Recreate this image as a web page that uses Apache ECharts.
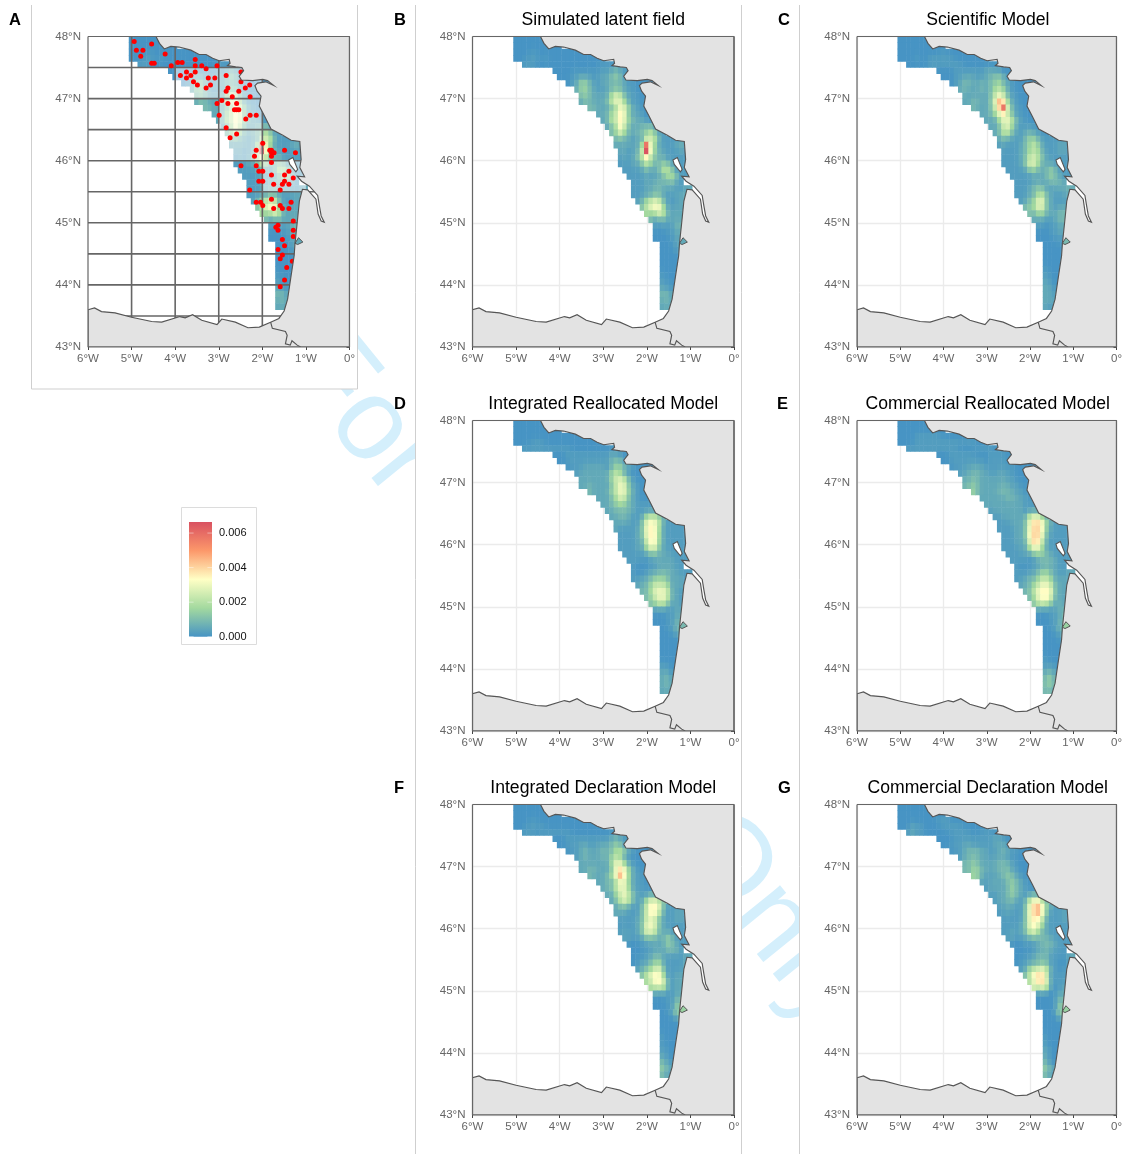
<!DOCTYPE html>
<html><head><meta charset="utf-8">
<style>html,body{margin:0;padding:0;background:#fff}#c{width:1125px;height:1154px}</style>
<script src="https://cdn.jsdelivr.net/npm/echarts@6/dist/echarts.min.js"></script>
</head><body><div id="c"></div>
<script>
// ---- data ----
const legendTicks = [0,0.002,0.004,0.006];
const legendMax = 0.00664;
const icesLats = [47.5,47,46.5,46,45.5,45,44.5,44,43.5];
const icesLons = [-5,-4,-3,-2];
const washedSquares = [[-4,47,-2,47.5],[-3,46.5,-2,47],[-3,46,-2,46.5],[-2,45.5,-1,46]];
const samplingStations = [[-4.94,47.92],[-4.89,47.78],[-4.74,47.78],[-4.79,47.68],[-4.54,47.88],[-4.23,47.72],[-4.54,47.57],[-4.48,47.57],[-3.94,47.58],[-3.84,47.58],[-3.54,47.63],[-4.09,47.53],[-3.54,47.53],[-3.39,47.53],[-3.04,47.53],[-2.49,47.43],[-3.29,47.48],[-3.74,47.43],[-3.54,47.43],[-3.64,47.37],[-3.88,47.37],[-3.74,47.33],[-3.58,47.27],[-3.49,47.22],[-3.24,47.33],[-3.09,47.33],[-3.19,47.22],[-3.29,47.17],[-2.83,47.37],[-2.49,47.27],[-2.29,47.22],[-2.39,47.17],[-2.54,47.12],[-2.79,47.17],[-2.83,47.12],[-2.69,47.03],[-2.28,47.03],[-2.93,46.97],[-3.04,46.92],[-2.79,46.92],[-2.59,46.92],[-2.64,46.82],[-2.59,46.82],[-2.54,46.82],[-2.99,46.73],[-2.38,46.67],[-2.28,46.73],[-2.14,46.73],[-2.83,46.53],[-2.59,46.43],[-2.74,46.37],[-1.99,46.28],[-2.14,46.17],[-1.83,46.17],[-1.79,46.17],[-1.73,46.13],[-1.79,46.13],[-1.79,46.07],[-1.49,46.17],[-1.24,46.13],[-2.18,46.07],[-1.79,45.97],[-2.49,45.92],[-2.14,45.92],[-2.08,45.83],[-1.99,45.83],[-1.79,45.77],[-1.49,45.77],[-1.39,45.83],[-1.29,45.72],[-2.08,45.67],[-1.99,45.67],[-1.74,45.62],[-1.54,45.62],[-1.49,45.67],[-1.39,45.62],[-2.29,45.53],[-1.59,45.53],[-2.14,45.33],[-2.04,45.33],[-1.79,45.38],[-1.59,45.28],[-1.74,45.23],[-1.54,45.23],[-1.39,45.23],[-1.34,45.33],[-1.99,45.28],[-1.29,45.03],[-1.64,44.96],[-1.69,44.93],[-1.64,44.88],[-1.29,44.88],[-1.29,44.78],[-1.54,44.73],[-1.49,44.63],[-1.64,44.57],[-1.54,44.48],[-1.59,44.42],[-1.31,44.38],[-1.44,44.28],[-1.49,44.08],[-1.59,43.97]];
const frenchCoast = [[-4.44,48],[-4.36,47.89],[-4.25,47.80],[-4.10,47.84],[-3.91,47.83],[-3.64,47.78],[-3.45,47.71],[-3.29,47.71],[-3.14,47.65],[-2.99,47.61],[-2.76,47.63],[-2.74,47.57],[-2.80,47.53],[-2.61,47.51],[-2.47,47.50],[-2.43,47.45],[-2.53,47.36],[-2.48,47.30],[-2.22,47.29],[-1.99,47.31],[-1.88,47.29],[-1.74,47.21],[-1.92,47.27],[-2.11,47.25],[-2.17,47.21],[-2.12,47.12],[-2.03,47.04],[-2.07,46.88],[-1.95,46.72],[-1.80,46.51],[-1.53,46.41],[-1.34,46.33],[-1.14,46.31],[-1.11,46.02],[-1.14,45.89],[-1.03,45.74],[-1.20,45.75],[-1.10,45.67],[-0.92,45.59],[-0.73,45.44],[-0.69,45.27],[-0.65,45.11],[-0.58,45.01],[-0.65,45.03],[-0.72,45.14],[-0.77,45.38],[-0.96,45.53],[-1.08,45.54],[-1.15,45.35],[-1.20,45.0],[-1.25,44.67],[-1.27,44.47],[-1.34,44.15],[-1.42,43.77],[-1.50,43.58],[-1.62,43.46],[-1.81,43.40]];
const spanishCoast = [[-2.07,43.32],[-2.33,43.31],[-2.62,43.40],[-2.93,43.45],[-3.04,43.36],[-3.39,43.43],[-3.60,43.52],[-3.77,43.47],[-3.89,43.49],[-4.31,43.40],[-4.54,43.41],[-5.0,43.48],[-5.38,43.55],[-5.69,43.57],[-5.85,43.63],[-6,43.60]];
const landCorners = [[-6,43],[0,43],[0,48]];
const borderLine = [[-1.81,43.40],[-1.77,43.30],[-1.47,43.25],[-1.43,43.19],[-1.47,43.05],[-1.36,43.03],[-1.32,43.10],[-1.20,43.03],[-1.12,43.0]];
const oleronIsland = [[-1.40,46.01],[-1.30,46.05],[-1.19,45.86],[-1.23,45.82],[-1.37,45.94]];
const arcachonBay = [[-1.25,44.67],[-1.17,44.76],[-1.07,44.69],[-1.19,44.65]];
const rowTopLat = 48, cellStep = 0.1;
const rowWest = [-5.06,-5.06,-5.06,-5.06,-4.86,-4.16,-4.06,-3.86,-3.66,-3.56,-3.56,-3.36,-3.16,-3.06,-2.96,-2.86,-2.76,-2.76,-2.66,-2.66,-2.66,-2.56,-2.46,-2.36,-2.36,-2.36,-2.26,-2.16,-2.06,-1.96,-1.86,-1.86,-1.86,-1.70,-1.70,-1.70,-1.70,-1.70,-1.70,-1.70,-1.70,-1.70,-1.70,-1.70];
// density estimated for each step of the rows below (steps written as hex chars)
const levelValues = [0,0.00022,0.0005,0.0009,0.0015,0.0023,0.003,0.0035,0.004,0.0043,0.0047,0.0051,0.0058,0.0066];
// each char = density step, one char per 0.1 degree cell, rows from 48N southward
const latentRows = ["00000000","00000000000","0000100000000000","000111010000000000000","11100000000000000011000","000001001011123210","00011221112234310","01244311223332110000","2443211233321100","3432222465321100","2332223566421100","332223466421100","2234586322100","2255764322100","2348532233321","3464323345321","3332123465211111","2222223c542111231","221134d642211121","1212357533211111","1112235433432111","111123223553111","111121223453111","111222333321","11122332221122","1112233211222","134565311122","35677421221","444652222","32232222","1111133","0001122","0000122","00012","00011","00000","00000","00000","1000","1100","2110","3321","232","222"];
const scientificRows = ["00000000","00000000000","0000000000100000","000010011111100000000","00000111111110000000000","000011111112221000","00011222112334210","01233223234432100000","2322232345421000","2222223565311000","2233223698421000","3222358c5311000","2234675311000","2224665311000","2235642111100","2355321232110","2322113443111111","12111234542111221","1111234543111221","1111235553211111","1111236643221111","111123432343111","111112223432111","111122223332","11123432122232","1112345321122","123466321111","34466321222","334432233","22211233","1101122","0001122","0000111","00001","00000","00000","00000","10000","1100","2100","2210","2211","222","211"];
const integratedReallocRows = ["00000000","00000000000","0000000000000000","000011100000000000000","11111111111000000000000","000111111111122100","00111111111133310","01112222212443210000","1222222245421000","2222222456531000","2232222356632100","322224566421000","2223465321000","2234443211111","2233332111111","2233211245542","2222113676521111","21111236774211111","1111236774211111","1111225774211111","1111224663211111","111112333221111","111101222221111","100011222211","10012233322111","1122344432221","223455542221","33466652211","345665221","34553221","1111122","0001122","0001133","00123","00012","00000","00000","00000","0000","1100","2210","2321","232","222"];
const commercialReallocRows = ["00000000","00000000000","0000111111000000","000011111111111111000","11111111111100001111000","000111111000111100","00111111110111100","01112222111111100000","1223322112211000","2333222222211000","3343222223221100","432222333221100","2222223322110","2222222221111","1222222211121","1122222256642","1112223688742111","11112236887321111","1112237886311111","1112226885211111","1111224764211111","111122344321111","111101233321111","100112232211","11112344321122","1123345542222","223456653221","33567763221","346776222","35553231","1111223","0001123","0001133","00123","00012","00001","00000","00000","1000","1110","2320","3431","343","332"];
const integratedDeclRows = ["00000000","00000000000","0000100000000000","000111100000000000000","11101111111000000000000","000111111111123210","00111221122234310","01123222333454210000","1232223245421000","2222222466421000","2233222368742100","322234797421100","2233466421100","2335664211100","2245653211222","2356531246653","2332113577631111","22211135775211221","1111235653211221","1111236663211111","1211236653221111","121123332343111","000112222432111","000112223331","00112332111122","0112344211112","133456311112","35677411222","457762122","45552122","1111122","0001133","0001144","00134","00012","00000","00000","10000","1000","1100","2100","3210","432","321"];
const commercialDeclRows = ["00000000","00000000000","0000000001110000","000211000011111000000","12110000001111100111000","000011111111122100","00111221111122210","01123332211232110000","1233322122211000","3343222233311000","3344322233321000","442212234321000","2122223432100","1222234321100","1122343211221","1223321257752","1222113689742111","11211136897311121","1111136775211121","1111236764211111","1121235643211111","121122333321111","000111233321111","000012232111","00112333111022","0112233311001","124556521011","35788511111","468861111","55651012","0000122","0000133","0000144","00034","00012","00000","00000","10000","1000","2100","2100","3100","432","321"];
const arcachonLevels = [2,2,3,3,4,4,4];
const panelNames = ["","Simulated latent field","Scientific Model","Integrated Reallocated Model","Commercial Reallocated Model","Integrated Declaration Model","Commercial Declaration Model"];
const panelTags = ["A","B","C","D","E","F","G"];
const panelRows = [latentRows,latentRows,scientificRows,integratedReallocRows,commercialReallocRows,integratedDeclRows,commercialDeclRows];
// ---- layout ----
const panelLeft = [88,472.5,857,472.5,857,472.5,857];
const panelTop = [36.5,36.5,36.5,420.5,420.5,804.5,804.5];
const tagLeft = [9,394,778,394,777,394,778];
const PW = 261.5, PH = 310.5;
const FONT = '"Liberation Sans", Arial, sans-serif';
const spectral = ['#3288BD','#99D594','#FFFFBF','#FC8D59','#D53E4F'];
function hex(c){return [1,3,5].map(i=>parseInt(c.substr(i,2),16));}
function densityColor(v){
  const t=Math.min(1,Math.max(0,v/legendMax))*(spectral.length-1);
  const i=Math.min(spectral.length-2,Math.floor(t)),f=t-i;
  const a=hex(spectral[i]),b=hex(spectral[i+1]);
  const mix=a.map((x,k)=>x+(b[k]-x)*f).map(x=>Math.round(x*0.9+255*0.1));
  return 'rgb('+mix.join(',')+')';
}
// cell data: [west lon, top lat, read value, shade]; the shade softens the colour with the adjacent read cells, as the raster in the picture does
function cellsFrom(rows){
  const g=new Map(),col=w=>Math.round((w+5.06)*10);
  rows.forEach((r,i)=>{[...r].forEach((ch,j)=>g.set(i+','+(col(rowWest[i])+j),levelValues[parseInt(ch,16)]));});
  const out=[];
  rows.forEach((r,i)=>{[...r].forEach((ch,j)=>{
    const c=col(rowWest[i])+j,v=g.get(i+','+c);
    let sum=v*0.4,w=0.4;
    [[i-1,c],[i+1,c],[i,c-1],[i,c+1]].forEach(k=>{const n=g.get(k[0]+','+k[1]);if(n!==undefined){sum+=n*0.15;w+=0.15;}});
    out.push([rowWest[i]+j*cellStep,rowTopLat-i*cellStep,v,v>=0.0043?v:sum/w]);
  });});
  return out;
}
const renderCell=(p,api)=>{
  const a=api.coord([api.value(0),api.value(1)]),b=api.coord([api.value(0)+cellStep,api.value(1)-cellStep]);
  return {type:'rect',shape:{x:a[0]-0.2,y:a[1]-0.2,width:b[0]-a[0]+0.5,height:b[1]-a[1]+0.5},style:{fill:densityColor(api.value(3))}};
};
const polySeries=(i,pts,style,z,closed=true)=>({
  type:'custom',xAxisIndex:i,yAxisIndex:i,z,silent:true,animation:false,clip:true,data:[[pts[0][0],pts[0][1]]],
  renderItem:(p,api)=>({type:closed?'polygon':'polyline',shape:{points:pts.map(q=>api.coord(q))},style})
});
const grids=[],xAxes=[],yAxes=[],series=[],titles=[];
panelNames.forEach((name,i)=>{
  grids.push({left:panelLeft[i],top:panelTop[i],width:PW,height:PH});
  const isA=i===0;
  const ax={type:'value',min:-6,max:0,interval:1,gridIndex:i,
    axisLine:{show:false},axisTick:{length:3,lineStyle:{color:'#444'}},
    axisLabel:{margin:6,fontSize:11.5,color:'#666',fontFamily:FONT,showMinLabel:true,showMaxLabel:true,hideOverlap:false,formatter:v=>v<0?(-v)+'°W':'0°'},
    splitLine:{show:!isA,lineStyle:{color:'#ebebeb',width:1.3}}};
  const ay={type:'value',min:43,max:48,interval:1,gridIndex:i,
    axisLine:{show:false},axisTick:{length:3,lineStyle:{color:'#444'}},
    axisLabel:{margin:7,fontSize:11.5,color:'#666',fontFamily:FONT,formatter:v=>v+'°N'},
    splitLine:{show:!isA,lineStyle:{color:'#ebebeb',width:1.3}}};
  xAxes.push(ax);yAxes.push(ay);
  series.push({type:'custom',xAxisIndex:i,yAxisIndex:i,z:2,silent:true,animation:false,clip:true,progressive:0,data:cellsFrom(panelRows[i]),renderItem:renderCell});
  if(isA){
    series.push({type:'custom',xAxisIndex:i,yAxisIndex:i,z:3,silent:true,animation:false,clip:true,data:washedSquares,
      renderItem:(p,api)=>{const a=api.coord([api.value(0),api.value(3)]),b=api.coord([api.value(2),api.value(1)]);
        return {type:'rect',shape:{x:a[0],y:a[1],width:b[0]-a[0],height:b[1]-a[1]},style:{fill:'rgba(255,255,255,0.55)'}};}});
    icesLats.forEach(l=>series.push({type:'line',xAxisIndex:i,yAxisIndex:i,z:4,silent:true,animation:false,showSymbol:false,lineStyle:{color:'#666',width:1.6},data:[[-6,l],[0,l]]}));
    icesLons.forEach(l=>series.push({type:'line',xAxisIndex:i,yAxisIndex:i,z:4,silent:true,animation:false,showSymbol:false,lineStyle:{color:'#666',width:1.6},data:[[l,43],[l,48]]}));
    series.push({type:'scatter',xAxisIndex:i,yAxisIndex:i,z:5,silent:true,animation:false,symbolSize:5,itemStyle:{color:'#ff0000',opacity:1},data:samplingStations});
  }
  const land=frenchCoast.concat(spanishCoast,landCorners);
  series.push(polySeries(i,land,{fill:'#e3e3e3',stroke:'#555',lineWidth:1.15},6));
  series.push(polySeries(i,borderLine,{fill:'none',stroke:'#555',lineWidth:1.15},7,false));
  series.push(polySeries(i,oleronIsland,{fill:'#fff',stroke:'#555',lineWidth:1.1},7));
  series.push(polySeries(i,arcachonBay,{fill:densityColor(levelValues[arcachonLevels[i]]),stroke:'#555',lineWidth:1},7));
  series.push({type:'line',xAxisIndex:i,yAxisIndex:i,z:8,silent:true,animation:false,showSymbol:false,clip:false,lineStyle:{color:'#666',width:1.2},
    data:[[-6,48],[0,48],[0,43],[-6,43],[-6,48]]});
  titles.push({text:panelTags[i],left:tagLeft[i],top:panelTop[i]-25,textStyle:{fontFamily:FONT,fontSize:16.5,fontWeight:'bold',color:'#000'},padding:0});
  if(name) titles.push({text:name,left:panelLeft[i]+PW/2,textAlign:'center',top:panelTop[i]-25,textStyle:{fontFamily:FONT,fontSize:17.6,fontWeight:'normal',color:'#000'},padding:0});
});
// legend colour bar
const L=panelNames.length;
grids.push({left:189,top:522,width:23,height:114.7});
xAxes.push({type:'value',gridIndex:L,min:0,max:1,show:false});
yAxes.push({type:'value',gridIndex:L,min:0,max:legendMax,position:'right',interval:0.002,
  axisLine:{show:false},axisTick:{show:false},splitLine:{show:false},
  axisLabel:{margin:7,fontSize:11,color:'#111',fontFamily:FONT,customValues:legendTicks,formatter:v=>v.toFixed(3)}});
series.push({type:'custom',xAxisIndex:L,yAxisIndex:L,z:3,silent:true,animation:false,data:[[0,legendMax]],
  renderItem:(p,api)=>{
    const a=api.coord([0,legendMax]),b=api.coord([1,0]);
    const kids=[{type:'rect',shape:{x:a[0],y:a[1],width:b[0]-a[0],height:b[1]-a[1]},
      style:{fill:new echarts.graphic.LinearGradient(0,1,0,0,spectral.map((c,k)=>({offset:k/(spectral.length-1),color:densityColor(legendMax*k/(spectral.length-1))})))}}];
    legendTicks.forEach(t=>{const y=api.coord([0,t])[1];
      kids.push({type:'line',shape:{x1:a[0],y1:y,x2:a[0]+4.6,y2:y},style:{stroke:'rgba(255,255,255,.75)',lineWidth:.6}});
      kids.push({type:'line',shape:{x1:b[0]-4.6,y1:y,x2:b[0],y2:y},style:{stroke:'rgba(255,255,255,.75)',lineWidth:.6}});});
    return {type:'group',children:kids};
  }});
const lineStyle={stroke:'#cfcfcf',lineWidth:1};
const vLine=(x,y1,y2)=>({type:'line',shape:{x1:x,y1,x2:x,y2},style:lineStyle,z:-4,silent:true});
const chart=echarts.init(document.getElementById('c'),null,{renderer:'canvas'});
chart.setOption({
  animation:false,backgroundColor:'#fff',
  title:titles,grid:grids,xAxis:xAxes,yAxis:yAxes,series,
  graphic:{elements:[
    {type:'text',x:261,y:383,rotation:-51*Math.PI/180,z:-10,silent:true,
      style:{text:'For Review Only',font:'116px "Liberation Sans"',fill:'#d4effc',textAlign:'left',textVerticalAlign:'bottom'}},
    {type:'rect',shape:{x:31.5,y:0,width:326,height:389},style:{fill:'#fff'},z:-5,silent:true},
    {type:'rect',shape:{x:415.5,y:0,width:326,height:1154},style:{fill:'#fff'},z:-5,silent:true},
    {type:'rect',shape:{x:799.5,y:0,width:326,height:1154},style:{fill:'#fff'},z:-5,silent:true},
    vLine(31.5,5,389),vLine(357.5,5,389),vLine(415.5,5,1154),vLine(741.5,5,1154),vLine(799.5,5,1154),
    {type:'line',shape:{x1:31.5,y1:389,x2:357.5,y2:389},style:lineStyle,z:-4,silent:true},
    {type:'rect',shape:{x:181.5,y:507.5,width:75,height:137},style:{fill:'#fff',stroke:'#dcdcdc',lineWidth:1},z:-5,silent:true}
  ]}
});
</script></body></html>
